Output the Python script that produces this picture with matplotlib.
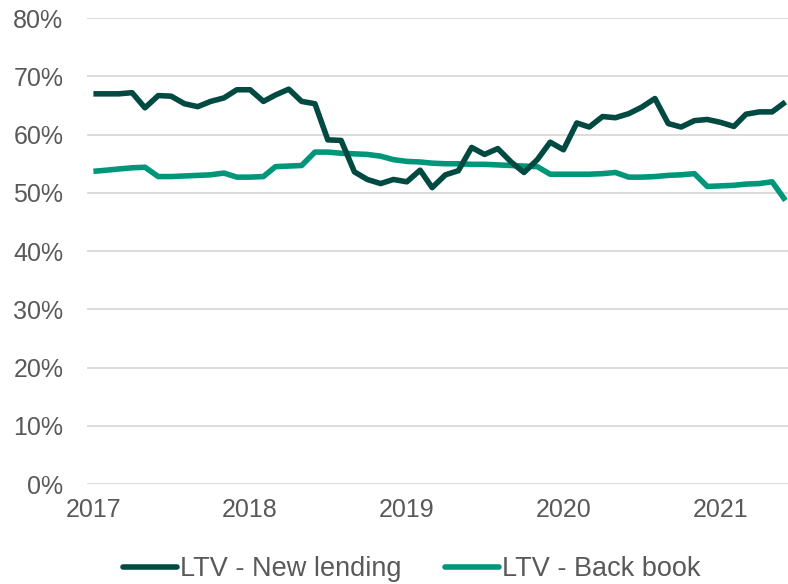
import numpy as np
import pandas as pd
import matplotlib
matplotlib.use("Agg")
import matplotlib.pyplot as plt
from matplotlib.ticker import PercentFormatter

# monthly LTV figures, Jan 2017 - Jun 2021 (%)
months = pd.date_range("2017-01-01", periods=54, freq="MS")

ltv_new_lending = [
    67.0, 67.0, 67.0, 67.2, 64.6, 66.7, 66.6, 65.3, 64.8, 65.7,
    66.3, 67.7, 67.7, 65.7, 66.8, 67.8, 65.7, 65.3, 59.1, 59.0,
    53.6, 52.3, 51.6, 52.3, 51.9, 53.9, 50.9, 53.1, 53.8, 57.8,
    56.6, 57.6, 55.3, 53.5, 55.7, 58.7, 57.4, 62.0, 61.3, 63.1,
    62.9, 63.6, 64.7, 66.2, 61.9, 61.3, 62.4, 62.6, 62.1, 61.4,
    63.5, 63.9, 63.9, 65.6,
]

ltv_back_book = [
    53.7, 53.9, 54.1, 54.3, 54.4, 52.8, 52.8, 52.9, 53.0, 53.1,
    53.4, 52.7, 52.7, 52.8, 54.5, 54.6, 54.7, 57.0, 57.0, 56.8,
    56.7, 56.6, 56.3, 55.7, 55.4, 55.3, 55.1, 55.0, 55.0, 54.9,
    54.9, 54.8, 54.7, 54.6, 54.5, 53.2, 53.2, 53.2, 53.2, 53.3,
    53.5, 52.7, 52.7, 52.8, 53.0, 53.1, 53.3, 51.1, 51.2, 51.3,
    51.5, 51.6, 51.9, 48.7,
]

year_ticks = pd.to_datetime(["2017-01-01", "2018-01-01", "2019-01-01",
                             "2020-01-01", "2021-01-01"])
year_labels = ["2017", "2018", "2019", "2020", "2021"]

DARK = "#004a42"
GREEN = "#00967a"
TEXT = "#595959"
GRID = "#d9d9d9"

plt.rcParams["font.family"] = ["Liberation Sans", "DejaVu Sans"]

fig = plt.figure(figsize=(7.88, 5.84), dpi=100)
ax = fig.add_axes([0.1104, 0.171, 0.8896, 0.798])

ax.plot(months, ltv_new_lending, color=DARK, linewidth=4.0,
        solid_joinstyle="round", solid_capstyle="butt",
        label="LTV - New lending", zorder=3)
ax.plot(months, ltv_back_book, color=GREEN, linewidth=4.0,
        solid_joinstyle="round", solid_capstyle="butt",
        label="LTV - Back book", zorder=2)

ax.set_ylim(0, 80)
ax.set_yticks(np.arange(0, 81, 10))
ax.yaxis.set_major_formatter(PercentFormatter(decimals=0))

ax.set_xlim(pd.Timestamp("2016-12-17"), pd.Timestamp("2021-06-07"))
ax.set_xticks(year_ticks)
ax.set_xticklabels(year_labels)

ax.grid(axis="y", color=GRID, linewidth=1.3)
ax.set_axisbelow(True)
for s in ax.spines.values():
    s.set_visible(False)

ax.tick_params(axis="y", length=0, pad=17, labelsize=18, labelcolor=TEXT)
ax.tick_params(axis="x", length=0, pad=10, labelsize=18, labelcolor=TEXT)

leg = fig.legend(loc="center", bbox_to_anchor=(0.522, 0.025), ncol=2,
                 frameon=False, fontsize=19.5, handlelength=2.0,
                 handletextpad=0.11, columnspacing=1.6)
for t in leg.get_texts():
    t.set_color(TEXT)
for h in leg.get_lines():
    h.set_solid_capstyle("round")

fig.savefig("out.png", dpi=100)
